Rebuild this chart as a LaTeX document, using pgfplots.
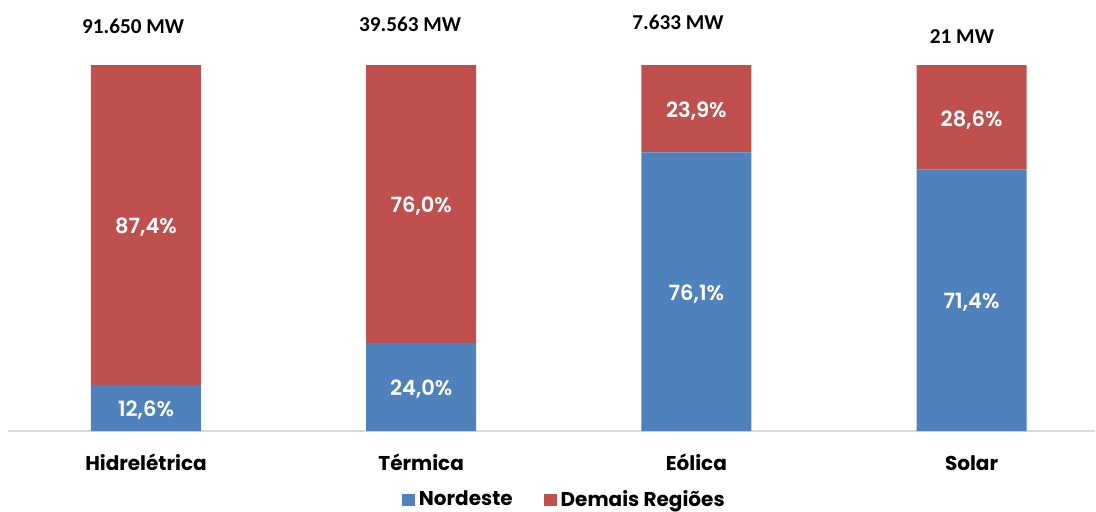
\documentclass[border=0pt]{standalone}
\usepackage{pgfplots}
\usepackage{pgfplotstable}
\pgfplotsset{compat=1.18}
\usepackage{fontspec}
\setmainfont{Poppins}
\newfontfamily\pctfont{Poppins}[UprightFont=* SemiBold]
\newfontfamily\mwfont{Carlito}

\definecolor{nordeste}{HTML}{4F81BD}
\definecolor{demais}{HTML}{C0504D}
\definecolor{eixo}{HTML}{D9D9D9}

% share of installed capacity per source (%)
\pgfplotstableread{
idx nordeste demais
0   12.6     87.4
1   24.0     76.0
2   76.1     23.9
3   71.4     28.6
}\participacao

% white percentage written in the middle of each stacked segment
\pgfplotsset{
  segment label/.style={
    visualization depends on={\thisrow{#1} \as \segh},
    nodes near coords={\pgfmathprintnumber[fixed,fixed zerofill,precision=1,use comma,assume math mode=true]{\segh}\%},
    every node near coord/.append style={anchor=center, text=white, yshift=-1.2pt,
      font=\pctfont\fontsize{10.5}{12}\selectfont},
  },
}

\begin{document}
\begin{tikzpicture}
\useasboundingbox (-4.2pt,-40pt) rectangle (543.8pt,215.5pt);
\begin{axis}[
  at={(0pt,0pt)}, anchor=south west,
  scale only axis, width=543.5pt, height=183pt,
  ybar stacked, bar width=55pt,
  xmin=-0.5, xmax=3.45, ymin=0, ymax=100,
  clip=false,
  axis y line=none, axis x line=bottom,
  x axis line style={draw=eixo, line width=0.8pt, -},
  xtick={0,1,2,3},
  xticklabels={Hidrelétrica,Térmica,Eólica,Solar},
  ytick=\empty,
  major tick length=0pt,
  xticklabel style={anchor=base, yshift=-19.5pt, text=black,
    font=\bfseries\fontsize{10}{12}\selectfont},
  legend style={at={(0.5123,-0.1885)}, anchor=center, draw=none, fill=none,
    legend columns=2, font=\bfseries\fontsize{10}{12}\selectfont,
    /tikz/every even column/.append style={column sep=13.5pt}},
  legend image code/.code={\fill[#1] (0pt,-3pt) rectangle (6.5pt,3pt);},
]
\addplot[fill=nordeste, draw=none, segment label=nordeste]
  table[x=idx, y=nordeste] {\participacao};
\addlegendentry{Nordeste}
\addplot[fill=demais, draw=none, segment label=demais]
  table[x=idx, y=demais] {\participacao};
\addlegendentry{Demais Regiões}

% installed capacity above each source
\node[font=\mwfont\bfseries\fontsize{10.6}{12}\selectfont] at (axis cs:-0.047,110.7) {91.650 MW};
\node[font=\mwfont\bfseries\fontsize{10.6}{12}\selectfont] at (axis cs:0.960,111.2) {39.563 MW};
\node[font=\mwfont\bfseries\fontsize{10.6}{12}\selectfont] at (axis cs:1.933,111.6) {7.633 MW};
\node[font=\mwfont\bfseries\fontsize{10.6}{12}\selectfont] at (axis cs:2.965,107.8) {21 MW};
\end{axis}
\end{tikzpicture}
\end{document}
